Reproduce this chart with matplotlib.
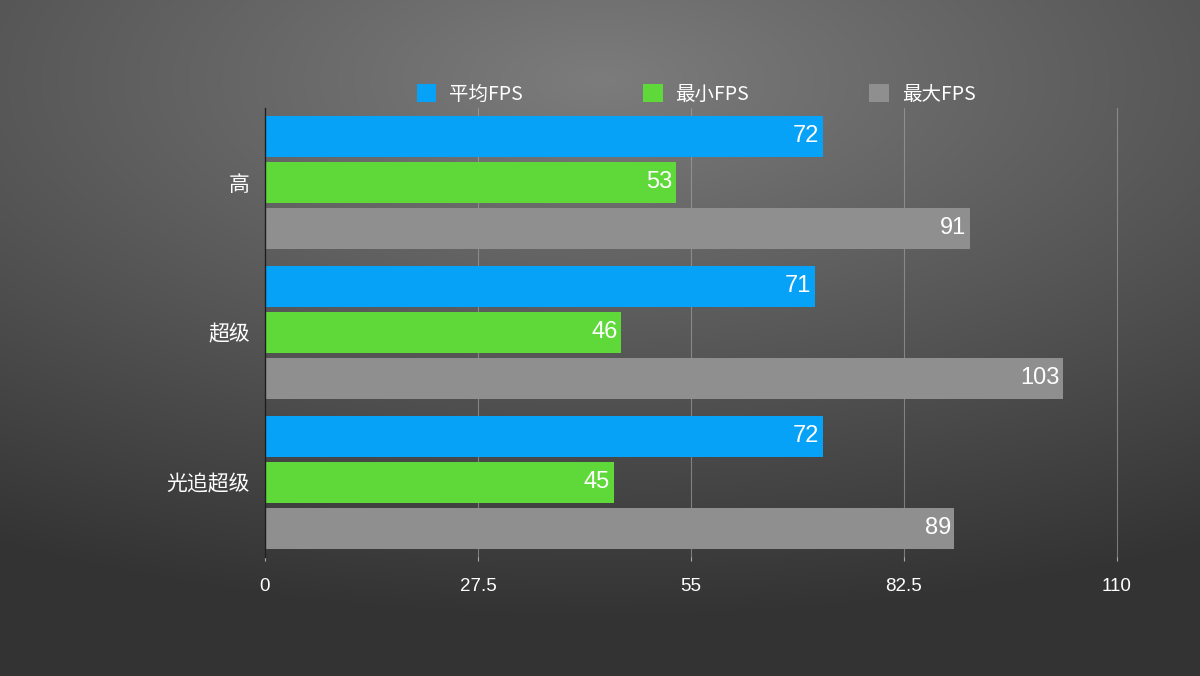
import numpy as np
import matplotlib
matplotlib.use('Agg')
import matplotlib.pyplot as plt

plt.rcParams['font.family'] = ['Noto Sans CJK SC', 'DejaVu Sans']

# data
categories = ['高', '超级', '光追超级']
series_names = ['平均FPS', '最小FPS', '最大FPS']
avg_fps = [72, 71, 72]
min_fps = [53, 46, 45]
max_fps = [91, 103, 89]
x_ticks = [0, 27.5, 55, 82.5, 110]
x_tick_labels = ['0', '27.5', '55', '82.5', '110']

colors = ['#06A2F7', '#5FD93A', '#8F8F8F']

W, H = 1200, 676
fig = plt.figure(figsize=(W / 100, H / 100), dpi=100)

# radial gradient background (light at top centre, dark at bottom)
yy, xx = np.mgrid[0:H, 0:W]
d = np.sqrt(((xx - 0.5 * W) / 1200) ** 2 + ((yy - 80) / 540) ** 2)
d = np.clip(d, 0, 1)
top, bot = 0x7C, 0x33
shade = (top - (top - bot) * d) / 255.0
bg = np.dstack([shade, shade, shade])
bg_ax = fig.add_axes([0, 0, 1, 1])
bg_ax.imshow(bg, aspect='auto', extent=[0, 1, 0, 1], zorder=0)
bg_ax.axis('off')

ax = fig.add_axes([265 / W, 1 - 557 / H, (1117 - 265) / W, (557 - 107.5) / H])
ax.patch.set_alpha(0)

y = np.arange(len(categories))
step = 46 / 150
height = 41 / 150
series = [avg_fps, min_fps, max_fps]
bars = []
for i, (vals, name, c) in enumerate(zip(series, series_names, colors)):
    b = ax.barh(y + (i - 1) * step, vals, height=height, color=c, label=name, zorder=3)
    bars.append(b)
    for yi, v in zip(y + (i - 1) * step, vals):
        ax.annotate(str(v), xy=(v, yi), xytext=(-2.5, 0), textcoords='offset points',
                    ha='right', va='center', color='white', fontsize=17,
                    family=['Liberation Sans', 'DejaVu Sans'], zorder=4)

ax.set_xlim(0, 110)
ax.set_ylim(2.5, -0.5)
ax.set_xticks(x_ticks)
ax.set_xticklabels(x_tick_labels)
ax.set_yticks(y)
ax.set_yticklabels(categories)

ax.grid(axis='x', color='#A8A8A8', linewidth=0.8, alpha=0.6, zorder=1)
for gl in ax.get_xgridlines():
    gl.set_clip_on(False)
for s in ['top', 'right', 'bottom']:
    ax.spines[s].set_visible(False)
ax.spines['left'].set_color('#1E1E1E')
ax.spines['left'].set_linewidth(1.0)
ax.spines['left'].set_zorder(5)

ax.tick_params(axis='x', colors='white', length=3, width=0.8, pad=12, labelsize=13.5)
ax.tick_params(axis='x', color='#A8A8A8')
ax.tick_params(axis='y', colors='white', length=0, pad=11, labelsize=15)
for lbl in ax.get_xticklabels():
    lbl.set_family(['Liberation Sans', 'DejaVu Sans'])

leg = fig.legend(handles=bars, labels=series_names, loc='center',
                 bbox_to_anchor=(696 / W, 1 - 94 / H), ncol=3, frameon=False,
                 fontsize=14, handlelength=1.0, handleheight=1.0,
                 handletextpad=0.65, columnspacing=6.2, borderpad=0)
for t in leg.get_texts():
    t.set_color('white')

fig.savefig('out.png', dpi=100)
